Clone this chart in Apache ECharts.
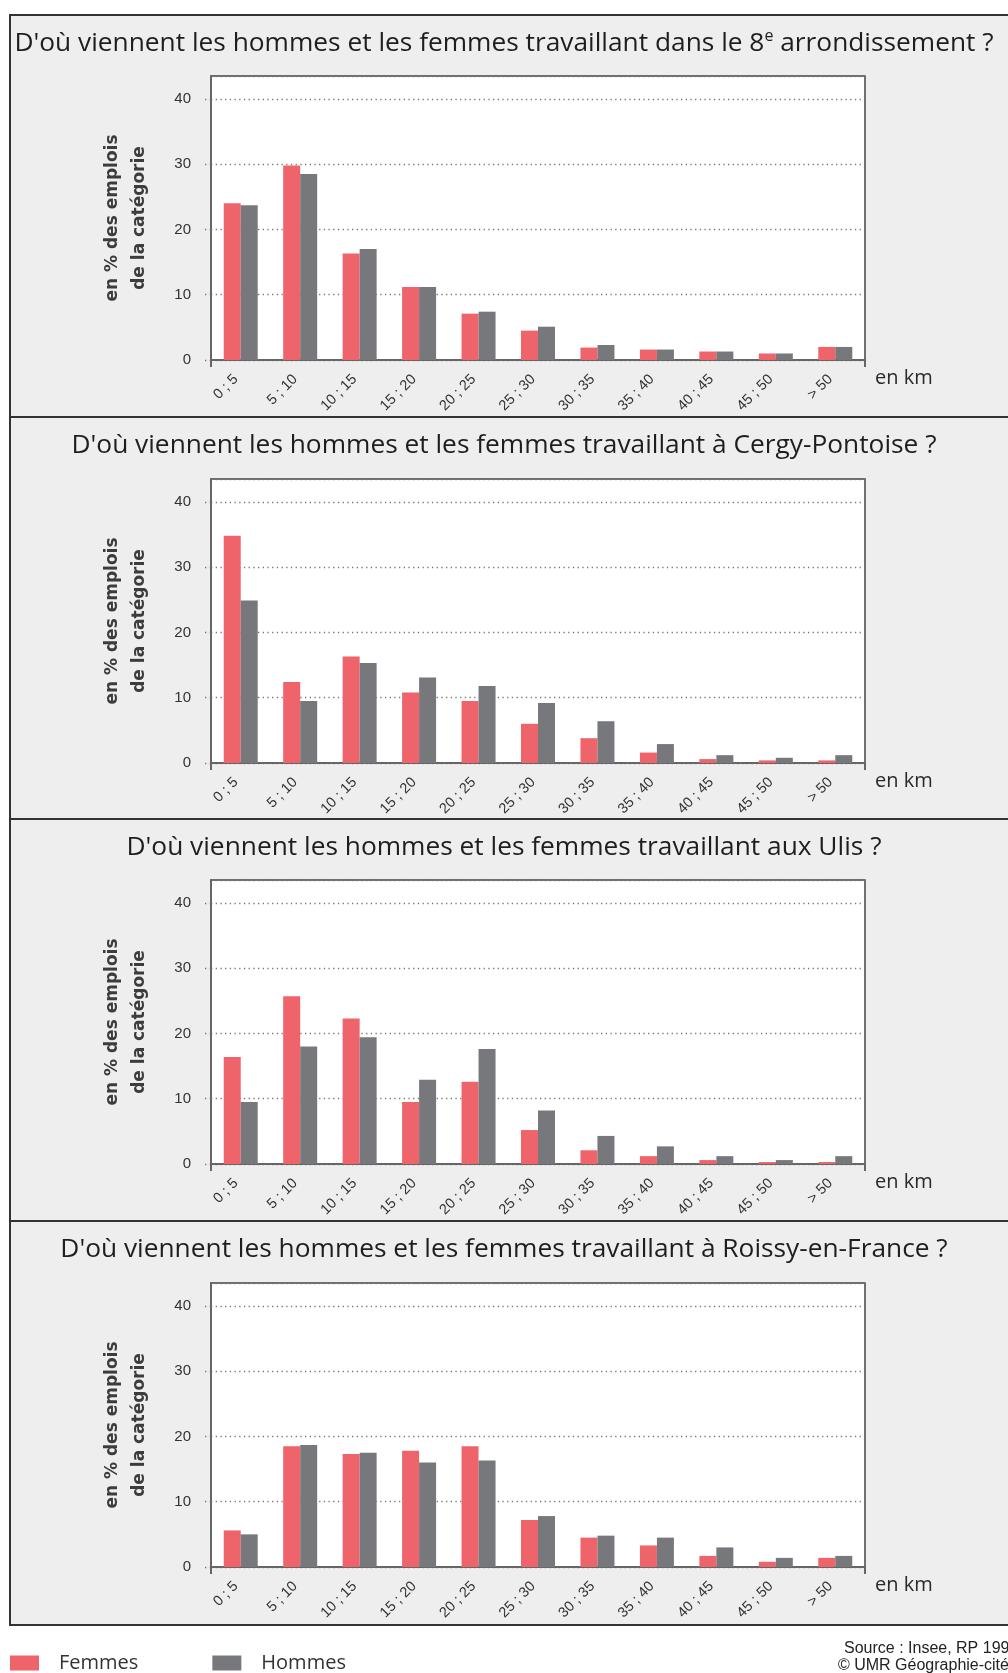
<!DOCTYPE html>
<html><head><meta charset="utf-8">
<script src="https://cdn.jsdelivr.net/npm/echarts@6/dist/echarts.min.js"></script>
<style>html,body{margin:0;padding:0;background:#fff}#c{width:1008px;height:1673px}</style>
</head><body><div id="c"></div>
<script>
// ---- data ----
const categories = ['0 ; 5','5 ; 10','10 ; 15','15 ; 20','20 ; 25','25 ; 30','30 ; 35','35 ; 40','40 ; 45','45 ; 50','> 50'];
const panelTitles = [
  "D'où viennent les hommes et les femmes travaillant dans le 8{sup|e} arrondissement ?",
  "D'où viennent les hommes et les femmes travaillant à Cergy-Pontoise ?",
  "D'où viennent les hommes et les femmes travaillant aux Ulis ?",
  "D'où viennent les hommes et les femmes travaillant à Roissy-en-France ?"
];
const femmes8e     = [24.0, 29.8, 16.3, 11.2, 7.1, 4.5, 1.9, 1.6, 1.3, 1.0, 2.0];
const hommes8e     = [23.7, 28.5, 17.0, 11.2, 7.4, 5.1, 2.3, 1.6, 1.3, 1.0, 2.0];
const femmesCergy  = [34.8, 12.4, 16.3, 10.8, 9.5, 6.0, 3.8, 1.6, 0.6, 0.4, 0.4];
const hommesCergy  = [24.9, 9.5, 15.3, 13.1, 11.8, 9.2, 6.4, 2.9, 1.2, 0.8, 1.2];
const femmesUlis   = [16.4, 25.7, 22.3, 9.5, 12.6, 5.2, 2.1, 1.2, 0.6, 0.3, 0.3];
const hommesUlis   = [9.5, 18.0, 19.4, 12.9, 17.6, 8.2, 4.3, 2.7, 1.2, 0.6, 1.2];
const femmesRoissy = [5.6, 18.5, 17.3, 17.8, 18.5, 7.2, 4.5, 3.3, 1.7, 0.8, 1.4];
const hommesRoissy = [5.0, 18.7, 17.5, 16.0, 16.3, 7.8, 4.8, 4.5, 3.0, 1.4, 1.7];
const yMin = 0, yMax = 43.5, yStep = 10;
const yAxisName = 'en % des emplois\nde la catégorie';
const xAxisName = 'en km';
const legendNames = ['Femmes', 'Hommes'];
const sourceLines = ['Source : Insee, RP 1999', '© UMR Géographie-cités'];

const femmesAll = [femmes8e, femmesCergy, femmesUlis, femmesRoissy];
const hommesAll = [hommes8e, hommesCergy, hommesUlis, hommesRoissy];

// ---- layout / style ----
const RED = '#ef636a', GREY = '#77787c';
const panelTops = [15, 417, 819, 1221];
const gridTops = [76, 479, 880, 1283];
const GRID_H = 284;
const SANS = "'Open Sans', sans-serif";
const ARIAL = "'Liberation Sans', Arial, sans-serif";

const chart = echarts.init(document.getElementById('c'), null, {renderer: 'canvas'});

const grids = [], xAxes = [], yAxes = [], series = [], titles = [];
for (let i = 0; i < 4; i++) {
  titles.push({
    text: panelTitles[i], left: 'center', top: panelTops[i] + 13, padding: 0,
    textStyle: {
      fontFamily: SANS, fontSize: 26.3, fontWeight: 'normal', color: '#1e1e1e', lineHeight: 32,
      rich: { sup: { fontFamily: SANS, fontSize: 16, color: '#1e1e1e', verticalAlign: 'top', lineHeight: 17, padding: [0, 0, 10, 0] } }
    }
  });
  grids.push({ left: 211, width: 654, top: gridTops[i], height: GRID_H, show: true,
    backgroundColor: '#fff', borderColor: '#444', borderWidth: 1.5, containLabel: false });
  xAxes.push({
    type: 'category', gridIndex: i, data: categories,
    axisLine: { show: true, lineStyle: { color: '#666', width: 2 } },
    axisTick: { show: true, length: 7, interval: (idx) => idx === 0, lineStyle: { color: '#666', width: 2 } },
    axisLabel: { interval: 0, rotate: 45, margin: 12, fontSize: 14.5, color: '#333', fontFamily: ARIAL, padding: [0, 7, 0, 0] },
    splitLine: { show: false },
    name: xAxisName, nameLocation: 'end', nameGap: 10,
    nameTextStyle: { fontFamily: SANS, fontSize: 20, color: '#2a2a2a', verticalAlign: 'top', padding: [8, 0, 0, 0] }
  });
  yAxes.push({
    type: 'value', gridIndex: i, min: yMin, max: yMax, interval: yStep,
    axisLine: { show: true, lineStyle: { color: '#666', width: 2 } },
    axisTick: { show: true, length: 9, lineStyle: { color: '#777', width: 1.3, type: [1.3, 3.4] } },
    axisLabel: { showMaxLabel: false, margin: 20, fontSize: 15, color: '#333', fontFamily: ARIAL },
    splitLine: { show: true, lineStyle: { color: '#777', width: 1.3, type: [1.3, 3.4] } },
    name: yAxisName, nameLocation: 'middle', nameRotate: 90, nameGap: 58,
    nameTextStyle: { fontFamily: "'DejaVu Sans', sans-serif", fontWeight: 'bold', fontSize: 17, color: '#3c3c3c', lineHeight: 27, align: 'center' }
  });
  series.push({
    type: 'bar', name: legendNames[0], xAxisIndex: i, yAxisIndex: i, data: femmesAll[i],
    barWidth: 17, barGap: '0%', itemStyle: { color: RED }, emphasis: { disabled: true }
  });
  series.push({
    type: 'bar', name: legendNames[1], xAxisIndex: i, yAxisIndex: i, data: hommesAll[i],
    barWidth: 17, barGap: '0%', itemStyle: { color: GREY }, emphasis: { disabled: true }
  });
}

const graphics = [
  { type: 'rect', z: -10, shape: { x: 10, y: 15, width: 1010, height: 1610 },
    style: { fill: '#edeeed', stroke: '#333', lineWidth: 2 } }
];
for (let i = 1; i < 4; i++) {
  graphics.push({ type: 'line', z: -9, shape: { x1: 10, y1: panelTops[i], x2: 1020, y2: panelTops[i] },
    style: { stroke: '#333', lineWidth: 2 } });
}
graphics.push({ type: 'text', left: 844, top: 1641, style: { text: sourceLines[0], font: "16px 'Liberation Sans', Arial, sans-serif", fill: '#222' } });
graphics.push({ type: 'text', left: 838, top: 1658, style: { text: sourceLines[1], font: "16px 'Liberation Sans', Arial, sans-serif", fill: '#222' } });

chart.setOption({
  animation: false,
  backgroundColor: '#fff',
  title: titles,
  grid: grids,
  xAxis: xAxes,
  yAxis: yAxes,
  series: series,
  graphic: graphics,
  legend: {
    data: legendNames, left: 10, top: 1653, padding: 0, icon: 'rect',
    itemWidth: 29, itemHeight: 15, itemGap: 74, selectedMode: false,
    textStyle: { fontFamily: SANS, fontSize: 20, color: '#333', lineHeight: 20, padding: [0, 0, 0, 15] }
  }
});
</script>
</body></html>
